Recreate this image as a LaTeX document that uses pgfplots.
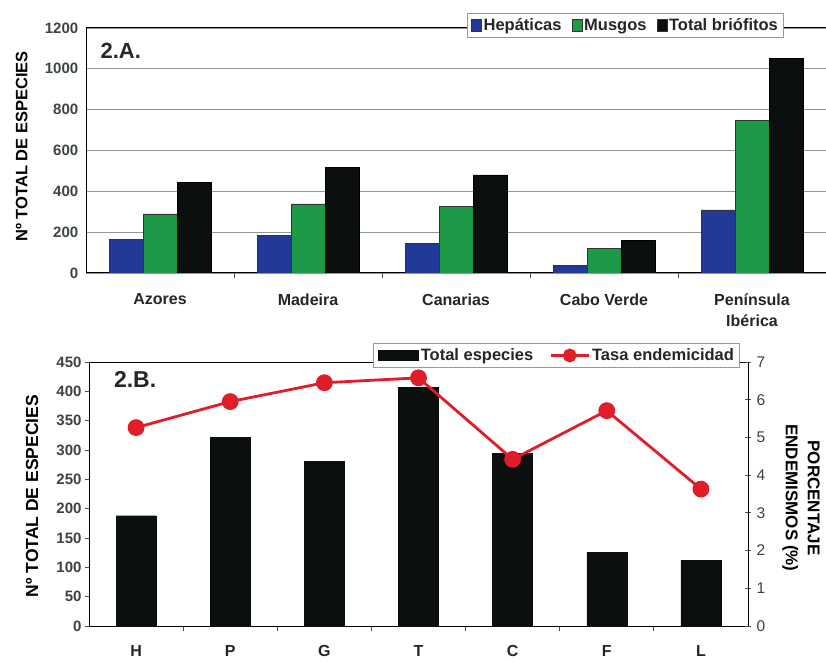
\documentclass[border=0pt]{standalone}
\usepackage{fontspec}
\setmainfont{Liberation Sans}
\usepackage{pgfplots}
\pgfplotsset{compat=1.18}
\definecolor{hepblue}{HTML}{22399A}
\definecolor{musgreen}{HTML}{1C9A48}
\definecolor{totblack}{HTML}{0B0F0D}
\definecolor{endred}{HTML}{E01E2A}
\definecolor{tickgray}{HTML}{3C453F}
\definecolor{gridc}{HTML}{8E9A90}
\pgfplotsset{
  sqlegend/.style={legend image code/.code={\draw[##1, draw=black!80, line width=0.6pt] (0pt,-6pt) rectangle (10pt,6pt);}},
  barlegend/.style={legend image code/.code={\fill[totblack] (0pt,-5pt) rectangle (40pt,5pt);}},
  linelegend/.style={legend image code/.code={\draw[mark repeat=2, mark phase=2, ##1, mark size=5.5pt] plot coordinates {(0pt,0pt) (19pt,0pt) (38pt,0pt)};}},
}
\begin{document}
\begin{tikzpicture}
\useasboundingbox (0pt,0pt) rectangle (826pt,661pt);
% ---------------- 2.A ----------------
\begin{axis}[
  at={(86pt,388pt)}, anchor=south west, scale only axis,
  width=740pt, height=245pt,
  xmin=-0.5, xmax=4.5, ymin=0, ymax=1200,
  axis x line*=bottom, axis y line*=left,
  axis line style={black, line width=1pt},
  ytick={0,200,...,1200},
  ymajorgrids, grid style={gridc, line width=0.8pt},
  ytick style={draw=none},
  yticklabel style={font=\bfseries\fontsize{15}{15}\selectfont, text=tickgray, /pgf/number format/1000 sep={}},
  /pgf/number format/assume math mode=true,
  xtick={0,...,4},
  xticklabels={Azores,Madeira,Canarias,Cabo Verde,{Península\\Ibérica}},
  xticklabel style={font=\bfseries\fontsize{16}{21}\selectfont, align=center, text=black!85, yshift=-13pt},
  major x tick style={draw=none},
  minor xtick={0.5,1.5,2.5,3.5},
  minor tick length=5pt, tick align=outside,
  minor x tick style={black!70, line width=0.8pt},
  ylabel={Nº TOTAL DE ESPECIES},
  ylabel style={font=\bfseries\fontsize{16.5}{16.5}\selectfont, at={(axis description cs:-0.087,0.516)}, anchor=center},
  ybar=0pt, bar width=34pt,
  legend columns=3,
  legend style={at={(0.729,1.0102)}, anchor=center, draw=gray!80, line width=1pt,
     font=\bfseries\fontsize{16.5}{16.5}\selectfont, text=black!85, inner xsep=4pt, inner ysep=3pt,
     /tikz/every even column/.append style={column sep=8pt}},
  sqlegend,
]
\addplot[fill=hepblue, draw=black!80, line width=0.6pt] coordinates {(0,165) (1,185) (2,145) (3,39) (4,309)};
\addplot[fill=musgreen, draw=black!80, line width=0.6pt] coordinates {(0,289) (1,338) (2,325) (3,119) (4,746)};
\addplot[fill=totblack, draw=black, line width=0.6pt] coordinates {(0,444) (1,518) (2,480) (3,158) (4,1051)};
\legend{Hepáticas,Musgos,Total briófitos}
\draw[black, line width=1pt] (rel axis cs:0,1) -- (rel axis cs:1,1);
\node[font=\bfseries\fontsize{22}{22}\selectfont, text=black!85] at (rel axis cs:0.047,0.906) {2.A.};
\end{axis}
% ---------------- 2.B (bars, left axis) ----------------
\begin{axis}[
  at={(89pt,35pt)}, anchor=south west, scale only axis,
  width=659pt, height=264pt,
  xmin=-0.5, xmax=6.5, ymin=0, ymax=450,
  axis line style={black, line width=1pt},
  ytick={0,50,...,450}, ytick pos=left,
  yticklabel style={font=\bfseries\fontsize{15}{15}\selectfont, text=black!75},
  /pgf/number format/assume math mode=true,
  xtick={0,...,6}, xtick pos=bottom,
  xticklabels={H,P,G,T,C,F,L},
  xticklabel style={font=\bfseries\fontsize{16}{16}\selectfont, text=black!85, yshift=-12pt},
  major x tick style={draw=none},
  minor xtick={0.5,1.5,...,5.5},
  minor tick length=5pt, tick align=outside,
  minor x tick style={black!70, line width=0.8pt},
  major tick length=4pt,
  ytick style={black!70, line width=0.8pt},
  ylabel={Nº TOTAL DE ESPECIES},
  ylabel style={font=\bfseries\fontsize{17.5}{17.5}\selectfont, at={(axis description cs:-0.0865,0.492)}, anchor=center},
]
\addplot[ybar, bar width=40pt, fill=totblack, draw=totblack] coordinates {(0,188) (1,322) (2,281) (3,407) (4,294) (5,125) (6,112)};
\node[font=\bfseries\fontsize{23}{23}\selectfont, text=black!85] at (rel axis cs:0.070,0.932) {2.B.};
\end{axis}
% ---------------- 2.B (line, right axis) ----------------
\begin{axis}[
  at={(89pt,35pt)}, anchor=south west, scale only axis,
  width=659pt, height=264pt,
  xmin=-0.5, xmax=6.5, ymin=0, ymax=7,
  axis x line=none, axis y line*=right,
  axis line style={black, line width=1pt},
  ytick={0,...,7},
  yticklabel style={font=\fontsize{15.5}{15.5}\selectfont, text=black!75, xshift=2pt},
  /pgf/number format/assume math mode=true,
  major tick length=6pt, tick align=center,
  ytick style={black!70, line width=0.8pt},
  ylabel={PORCENTAJE\\ENDEMISMOS (\%)},
  ylabel style={font=\bfseries\fontsize{17}{22}\selectfont, align=center, at={(axis description cs:1.0804,0.485)}, anchor=center, rotate=180},
  legend columns=2,
  legend style={at={(0.710,1.0246)}, anchor=center, draw=gray!80, line width=1pt,
     font=\bfseries\fontsize{16.5}{16.5}\selectfont, text=black!85, inner xsep=4pt, inner ysep=3pt,
     /tikz/every even column/.append style={column sep=14pt}},
]
\addlegendimage{barlegend}
\addlegendentry{Total especies}
\addplot[endred, line width=2.8pt, mark=*, mark size=7pt, mark options={fill=endred, draw=endred}, linelegend]
  coordinates {(0,5.26) (1,5.95) (2,6.45) (3,6.58) (4,4.42) (5,5.71) (6,3.63)};
\addlegendentry{Tasa endemicidad}
\end{axis}
\end{tikzpicture}
\end{document}
